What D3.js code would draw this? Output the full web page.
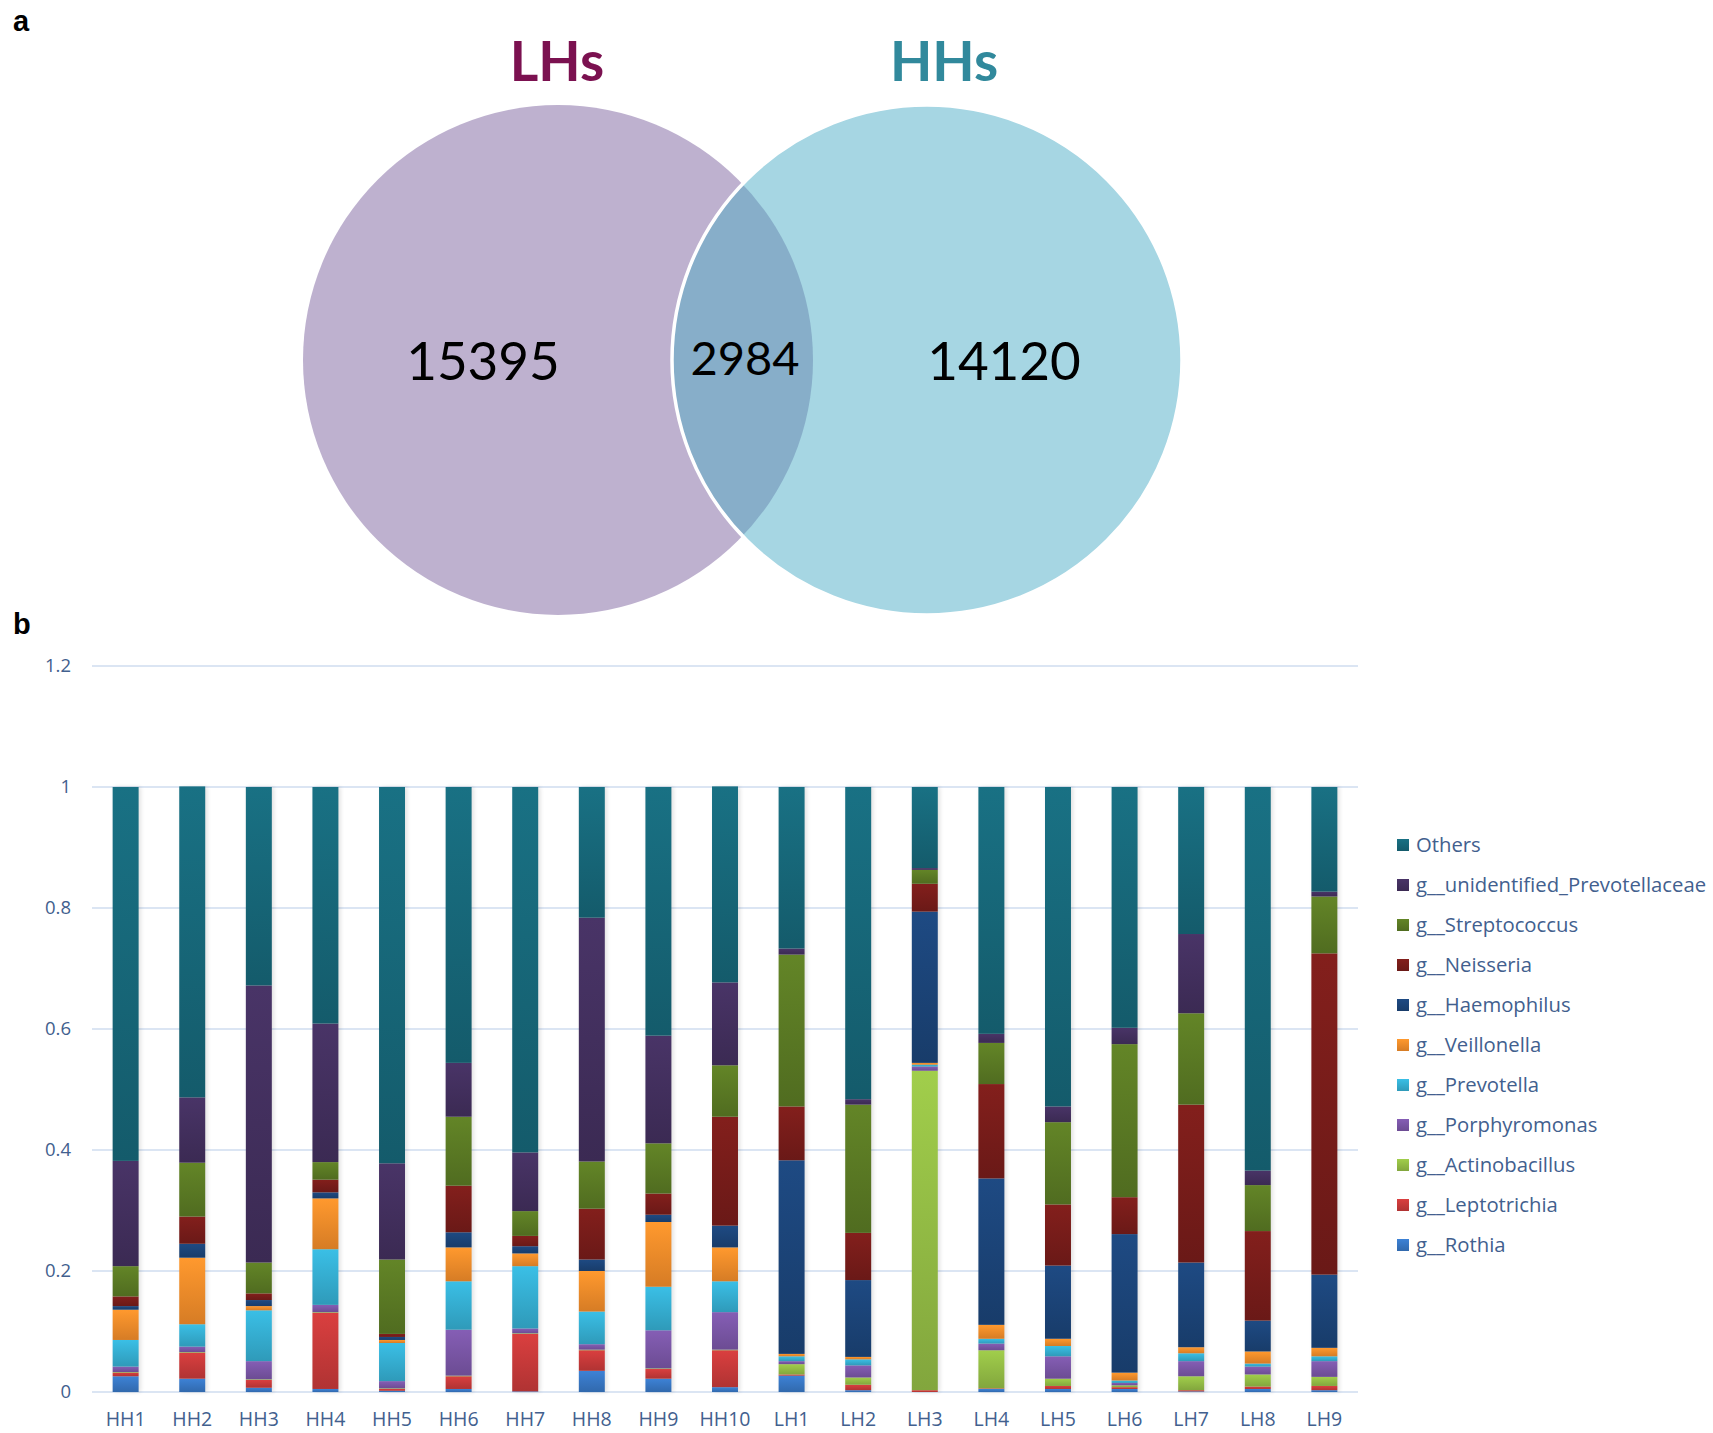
<!DOCTYPE html>
<html>
<head>
<meta charset="utf-8">
<script src="https://cdn.jsdelivr.net/npm/d3@7"></script>
<style>
  html, body { margin: 0; padding: 0; background: #ffffff; }
  svg { display: block; }
</style>
</head>
<body>
<svg id="chart" width="1713" height="1433"></svg>
<script>
// ---------------- DATA ----------------
const vennSets = ["LHs", "HHs"];
const vennCounts = [15395, 2984, 14120]; // LHs only, shared, HHs only

const samples = ["HH1","HH2","HH3","HH4","HH5","HH6","HH7","HH8","HH9","HH10",
                 "LH1","LH2","LH3","LH4","LH5","LH6","LH7","LH8","LH9"];

// stack order: bottom -> top
const genera = ["g__Rothia","g__Leptotrichia","g__Actinobacillus","g__Porphyromonas",
                "g__Prevotella","g__Veillonella","g__Haemophilus","g__Neisseria",
                "g__Streptococcus","g__unidentified_Prevotellaceae","Others"];

const rothia        = [.026,.022,.007,.005,.002,.005,.001,.035,.022,.008, .027,.003,.000,.005,.005,.005,.001,.005,.003];
const leptotrichia  = [.006,.043,.013,.126,.003,.021,.095,.034,.016,.061, .002,.009,.003,.001,.005,.003,.002,.004,.007];
const actinobacillus= [.001,.001,.001,.001,.001,.001,.001,.001,.001,.001, .017,.012,.528,.063,.012,.003,.023,.020,.015];
const porphyromonas = [.009,.009,.030,.012,.012,.076,.008,.009,.063,.062, .005,.020,.007,.011,.037,.004,.025,.013,.026];
const prevotella    = [.044,.037,.084,.092,.063,.080,.103,.054,.072,.051, .008,.010,.003,.008,.017,.004,.013,.005,.008];
const veillonella   = [.050,.110,.007,.084,.005,.056,.021,.067,.107,.056, .004,.004,.003,.023,.012,.013,.010,.020,.014];
const haemophilus   = [.006,.023,.010,.010,.005,.025,.012,.019,.012,.036, .320,.127,.250,.242,.121,.229,.140,.051,.121];
const neisseria     = [.016,.045,.011,.021,.005,.077,.017,.084,.035,.180, .089,.078,.046,.156,.101,.061,.261,.148,.531];
const streptococcus = [.050,.089,.051,.029,.123,.114,.041,.078,.083,.085, .251,.212,.023,.068,.136,.253,.151,.076,.094];
const unidPrevotellaceae = [.174,.108,.458,.229,.159,.089,.097,.403,.178,.137, .010,.009,.003,.015,.026,.027,.131,.024,.008];
const others        = [.618,.514,.328,.391,.622,.456,.604,.216,.411,.324, .267,.516,.134,.408,.528,.398,.243,.634,.173];

const yTicks = [0, 0.2, 0.4, 0.6, 0.8, 1, 1.2];

// ---------------- STYLE ----------------
const seriesArrays = [rothia, leptotrichia, actinobacillus, porphyromonas, prevotella,
                      veillonella, haemophilus, neisseria, streptococcus, unidPrevotellaceae, others];
const colors = ["#3877C4","#C73A3A","#93BC45","#7A56A6","#35AFD2","#F28C2A",
                "#1B4478","#781C1A","#5B7A24","#43305E","#176779"];
const textBlue = "#42608E";

const svg = d3.select("#chart");
const defs = svg.append("defs");

// ---------------- PANEL LABELS ----------------
svg.append("text").attr("x", 13).attr("y", 31)
  .attr("font-family", "Liberation Sans, Arial, sans-serif").attr("font-weight", "bold")
  .attr("font-size", 29).attr("fill", "#000").text("a");
svg.append("text").attr("x", 13).attr("y", 634)
  .attr("font-family", "Liberation Sans, Arial, sans-serif").attr("font-weight", "bold")
  .attr("font-size", 29).attr("fill", "#000").text("b");

// ---------------- VENN ----------------
const venn = { cy: 360, r: 255, c1: 558, c2: 927 };
const vennG = svg.append("g");
defs.append("clipPath").attr("id", "clipLeft")
  .append("circle").attr("cx", venn.c1).attr("cy", venn.cy).attr("r", venn.r);

vennG.append("circle").attr("cx", venn.c1).attr("cy", venn.cy).attr("r", venn.r)
  .attr("fill", "#BEB1CF");
vennG.append("circle").attr("cx", venn.c2).attr("cy", venn.cy).attr("r", venn.r)
  .attr("fill", "#A6D6E3");
vennG.append("circle").attr("cx", venn.c2).attr("cy", venn.cy).attr("r", venn.r)
  .attr("fill", "#87AEC9").attr("clip-path", "url(#clipLeft)");
vennG.append("circle").attr("cx", venn.c2).attr("cy", venn.cy).attr("r", venn.r)
  .attr("fill", "none").attr("stroke", "#ffffff").attr("stroke-width", 3.5);

const vennFont = "Lato, 'Open Sans', sans-serif";
vennG.append("text").attr("x", 557).attr("y", 81).attr("text-anchor", "middle")
  .attr("font-family", vennFont).attr("font-weight", "bold").attr("font-size", 55)
  .attr("fill", "#7B1150").text(vennSets[0]);
vennG.append("text").attr("x", 944).attr("y", 81).attr("text-anchor", "middle")
  .attr("font-family", vennFont).attr("font-weight", "bold").attr("font-size", 55)
  .attr("fill", "#31899C").text(vennSets[1]);

const numPos = [[483, 380, 53], [745, 375, 47], [1004, 380, 53]];
vennCounts.forEach((v, i) => {
  vennG.append("text").attr("x", numPos[i][0]).attr("y", numPos[i][1])
    .attr("text-anchor", "middle").attr("font-family", vennFont)
    .attr("font-size", numPos[i][2]).attr("fill", "#000").text(v);
});

// ---------------- STACKED BARS ----------------
const x = d3.scaleBand().domain(samples).range([92, 1358])
  .paddingInner(0.61).paddingOuter(0.31);
const y = d3.scaleLinear().domain([0, 1.2]).range([1392, 666]);

// gridlines
svg.append("g").selectAll("line").data(yTicks).join("line")
  .attr("x1", 92).attr("x2", 1358)
  .attr("y1", d => y(d)).attr("y2", d => y(d))
  .attr("stroke", "#CFDDEF").attr("stroke-width", 1.5);

// table
const table = samples.map((s, i) => {
  const row = { sample: s };
  genera.forEach((g, k) => row[g] = seriesArrays[k][i]);
  return row;
});
const stacked = d3.stack().keys(genera)(table);

// gradients
colors.forEach((c, k) => {
  const g = defs.append("linearGradient").attr("id", "grad" + k)
    .attr("x1", 0).attr("y1", 0).attr("x2", 0).attr("y2", 1);
  g.append("stop").attr("offset", "0%").attr("stop-color", d3.color(c).brighter(0.25));
  g.append("stop").attr("offset", "100%").attr("stop-color", d3.color(c).darker(0.35));
});
const blur = defs.append("filter").attr("id", "shadow").attr("x", "-50%").attr("width", "200%");
blur.append("feGaussianBlur").attr("stdDeviation", 2);

// shadows
svg.append("g").selectAll("rect").data(samples).join("rect")
  .attr("x", d => x(d) + 2).attr("width", x.bandwidth())
  .attr("y", y(1)).attr("height", y(0) - y(1))
  .attr("fill", "#000").attr("opacity", 0.12).attr("filter", "url(#shadow)");

svg.append("g").selectAll("g").data(stacked).join("g")
  .attr("fill", (d, k) => `url(#grad${k})`)
  .selectAll("rect").data(d => d).join("rect")
  .attr("x", d => x(d.data.sample))
  .attr("width", x.bandwidth())
  .attr("y", d => y(d[1]))
  .attr("height", d => Math.max(0, y(d[0]) - y(d[1])));

// axes
const axisFont = "'Open Sans', sans-serif";
const yAxis = svg.append("g").attr("transform", "translate(92,0)")
  .call(d3.axisLeft(y).tickValues(yTicks).tickFormat(d3.format("")).tickSize(0).tickPadding(21));
yAxis.select(".domain").remove();
yAxis.selectAll("text").attr("font-family", axisFont).attr("font-size", 18.5).attr("fill", textBlue);

const xAxis = svg.append("g").attr("transform", `translate(0,${y(0)})`)
  .call(d3.axisBottom(x).tickSize(0).tickPadding(20));
xAxis.select(".domain").remove();
xAxis.selectAll("text").attr("font-family", axisFont).attr("font-size", 19.5).attr("fill", textBlue);

// legend (top: Others -> bottom: Rothia)
const legendOrder = genera.map((g, k) => k).reverse();
const legend = svg.append("g").selectAll("g").data(legendOrder).join("g")
  .attr("transform", (k, i) => `translate(1397,${845 + i * 40})`);
legend.append("rect").attr("x", 0).attr("y", -6).attr("width", 12).attr("height", 12)
  .attr("fill", k => `url(#grad${k})`);
legend.append("text").attr("x", 19).attr("y", 0).attr("dy", "0.35em")
  .attr("font-family", axisFont).attr("font-size", 20.3).attr("fill", textBlue)
  .text(k => genera[k]);
</script>
</body>
</html>
